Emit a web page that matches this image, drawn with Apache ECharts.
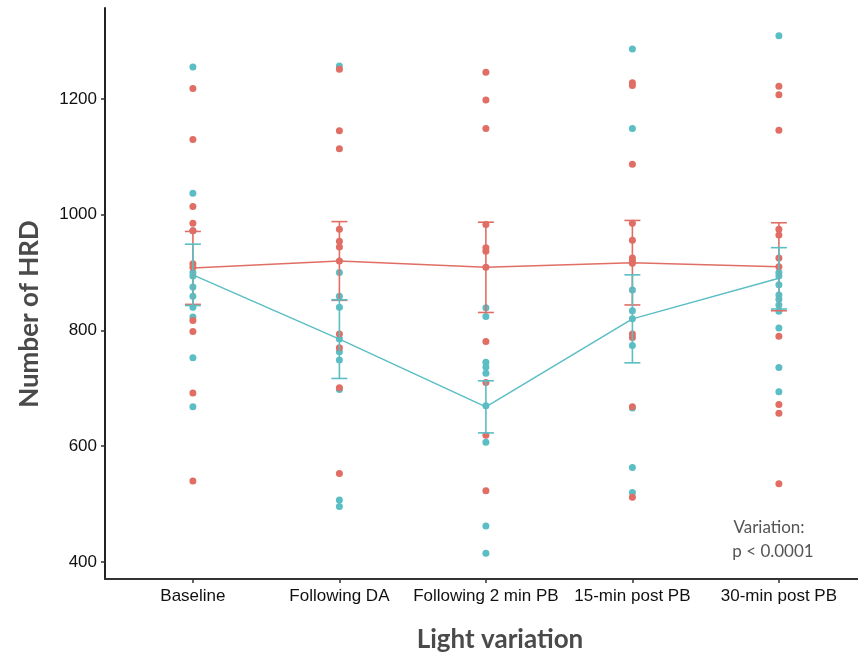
<!DOCTYPE html>
<html>
<head>
<meta charset="utf-8">
<script src="https://cdn.jsdelivr.net/npm/echarts@6/dist/echarts.min.js"></script>
<style>html,body{margin:0;padding:0;background:#fff}#c{width:858px;height:662px}</style>
</head>
<body>
<div id="c"></div>
<script>
const categories = ['Baseline', 'Following DA', 'Following 2 min PB', '15-min post PB', '30-min post PB'];
const yTicks = [400, 600, 800, 1000, 1200];

const redPoints = [
  [1218, 1130, 1014, 985, 972, 915, 909, 817, 798, 692, 540],
  [1251, 1145, 1114, 975, 954, 944, 920, 794, 770, 701, 553],
  [1246, 1198, 1149, 983, 943, 937, 909, 781, 710, 619, 523],
  [1228, 1223, 1087, 985, 956, 925, 920, 916, 794, 788, 668, 512],
  [1222, 1207, 1146, 975, 965, 925, 910, 790, 672, 657, 535]
];
const tealPoints = [
  [1255, 1037, 972, 900, 894, 875, 859, 840, 823, 753, 668],
  [1257, 900, 859, 840, 785, 763, 749, 698, 507, 496],
  [839, 824, 745, 737, 726, 670, 607, 462, 415],
  [1286, 1149, 870, 834, 820, 774, 666, 563, 520],
  [1309, 900, 894, 879, 861, 854, 844, 833, 804, 736, 694]
];
const redMean = [908, 920, 909, 917, 910];
const redErr = [63, 68, 78, 73, 76];
const tealMean = [896, 785, 668, 820, 890];
const tealErr = [53, 68, 45, 76, 53];

const RED = '#E06E64';
const TEAL = '#5ABEC4';

function pts(groups) {
  const out = [];
  groups.forEach((g, i) => g.forEach(v => out.push([i, v])));
  return out;
}
function meanLine(m) { return m.map((v, i) => [i, v]); }
function errData(m, e) { return m.map((v, i) => [i, v - e[i], v + e[i]]); }

function errRender(color) {
  return function (params, api) {
    const x = api.value(0);
    const lo = api.coord([x, api.value(1)]);
    const hi = api.coord([x, api.value(2)]);
    const w = 8;
    const style = { stroke: color, lineWidth: 1.6 };
    return {
      type: 'group',
      children: [
        { type: 'line', shape: { x1: lo[0], y1: lo[1], x2: hi[0], y2: hi[1] }, style },
        { type: 'line', shape: { x1: lo[0] - w, y1: lo[1], x2: lo[0] + w, y2: lo[1] }, style },
        { type: 'line', shape: { x1: hi[0] - w, y1: hi[1], x2: hi[0] + w, y2: hi[1] }, style }
      ]
    };
  };
}

const chart = echarts.init(document.getElementById('c'), null, { renderer: 'canvas' });
chart.setOption({
  animation: false,
  backgroundColor: '#fff',
  grid: { left: 105, right: 0, top: 8, bottom: 83, containLabel: false },
  xAxis: {
    type: 'value',
    min: -0.6,
    max: 4.54,
    splitLine: { show: false },
    axisLine: { onZero: false, lineStyle: { color: '#333', width: 2 } },
    axisTick: { customValues: [0, 1, 2, 3, 4], length: 4, lineStyle: { color: '#333', width: 1.5 } },
    axisLabel: {
      customValues: [0, 1, 2, 3, 4],
      formatter: v => categories[Math.round(v)],
      margin: 9,
      color: '#111',
      fontFamily: 'Liberation Sans',
      fontSize: 17
    }
  },
  yAxis: {
    type: 'value',
    min: 370.6,
    max: 1357,
    splitLine: { show: false },
    axisLine: { show: true, onZero: false, lineStyle: { color: '#222', width: 2 } },
    axisTick: { show: true, customValues: yTicks, length: 4, lineStyle: { color: '#333', width: 1.5 } },
    axisLabel: {
      customValues: yTicks,
      formatter: v => String(Math.round(v)),
      margin: 8,
      color: '#111',
      fontFamily: 'Liberation Sans',
      fontSize: 17
    }
  },
  graphic: [
    {
      type: 'text', x: 30, y: 314, rotation: Math.PI / 2,
      style: { text: 'Number of HRD', font: 'bold 26px Lato', fill: '#4a4a4a', align: 'center', verticalAlign: 'middle' }
    },
    {
      type: 'text', x: 500, y: 640,
      style: { text: 'Light variation', font: 'bold 26px Lato', fill: '#4a4a4a', align: 'center', verticalAlign: 'middle' }
    },
    {
      type: 'text', x: 769, y: 528,
      style: { text: 'Variation:', font: '17px Lato', fill: '#555', align: 'center', verticalAlign: 'middle' }
    },
    {
      type: 'text', x: 773, y: 552,
      style: { text: 'p < 0.0001', font: '17px Lato', fill: '#555', align: 'center', verticalAlign: 'middle' }
    }
  ],
  series: [
    { type: 'scatter', data: pts(tealPoints), symbolSize: 7, itemStyle: { color: TEAL, opacity: 1 }, z: 2 },
    { type: 'scatter', data: pts(redPoints), symbolSize: 7, itemStyle: { color: RED, opacity: 1 }, z: 2 },
    { type: 'line', data: meanLine(redMean), showSymbol: false, lineStyle: { color: RED, width: 1.5 }, z: 3 },
    { type: 'line', data: meanLine(tealMean), showSymbol: false, lineStyle: { color: TEAL, width: 1.5 }, z: 3 },
    { type: 'custom', data: errData(redMean, redErr), renderItem: errRender(RED), z: 4 },
    { type: 'custom', data: errData(tealMean, tealErr), renderItem: errRender(TEAL), z: 4 }
  ]
});
</script>
</body>
</html>
